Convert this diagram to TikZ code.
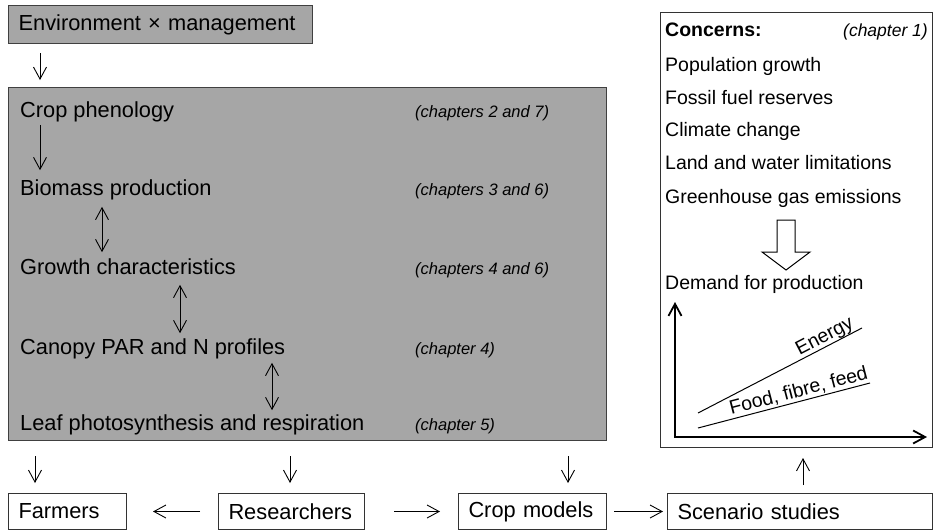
\documentclass[tikz,border=0pt]{standalone}
\usepackage{fontspec}
\setmainfont{Liberation Sans}
\usetikzlibrary{arrows.meta}

\tikzset{
  graybox/.style={draw=black!75, fill=black!35, line width=1.2pt},
  whitebox/.style={draw=black!80, fill=white, line width=1pt},
  arr/.style={-{Straight Barb[length=12pt,width=13pt]}, line width=0.9pt},
  darr/.style={{Straight Barb[length=12pt,width=13pt]}-{Straight Barb[length=12pt,width=13pt]}, line width=0.9pt},
  rowtxt/.style={font=\fontsize{21.8}{26}\selectfont, inner sep=0pt, text height=0.72em, text depth=0.2em, anchor=west},
  chaptxt/.style={font=\fontsize{16.5}{20}\selectfont\itshape, inner sep=0pt, text height=0.72em, text depth=0.2em, anchor=west},
  listtxt/.style={font=\fontsize{19.5}{23}\selectfont, inner sep=0pt, text height=0.72em, text depth=0.2em, anchor=west},
  linelabel/.style={font=\fontsize{19.5}{23}\selectfont, inner sep=2pt, text height=0.72em, text depth=0.2em},
  textbox/.style={font=\fontsize{21.8}{26}\selectfont, execute at begin node={\hyphenpenalty=10000\relax},
    anchor=north west, minimum height=36pt, inner xsep=10pt, align=left, text width=#1}
}

\begin{document}
\begin{tikzpicture}[x=1pt, y=-1pt]
        % Fix the page to the size of the figure
        \useasboundingbox (0,0) rectangle (934,531);

        % Input box and the big model box
        \node[graybox, textbox=284pt, minimum height=38pt] (env) at (8,5) {Environment × management};
        \node[graybox, anchor=north west, minimum width=598pt, minimum height=353pt, inner sep=0pt] (model) at (8,87) {};

        % Rows inside the model box
        \node[rowtxt] (phen) at (20,115) {Crop phenology};
        \node[rowtxt] (bio) at (20,193) {Biomass production};
        \node[rowtxt] (grow) at (20,272) {Growth characteristics};
        \node[rowtxt] (canopy) at (20,352) {Canopy PAR and N profiles};
        \node[rowtxt] (leaf) at (20,428) {Leaf photosynthesis and respiration};

        % Chapter references
        \node[chaptxt] (ch27) at (415,115) {(chapters 2 and 7)};
        \node[chaptxt] (ch36) at (415,193) {(chapters 3 and 6)};
        \node[chaptxt] (ch46) at (415,272) {(chapters 4 and 6)};
        \node[chaptxt] (ch4) at (415,352) {(chapter 4)};
        \node[chaptxt] (ch5) at (415,428) {(chapter 5)};

        % Arrows between the rows
        \draw[arr, shorten <=9pt, shorten >=7pt] ([xshift=32pt]env.south west) -- ([xshift=32pt]model.north west);
        \draw[arr, shorten <=5pt, shorten >=18pt] ([xshift=20pt]phen.south west) -- ([xshift=20pt]bio.north west);
        \draw[darr, shorten <=9pt, shorten >=15pt] ([xshift=82pt]bio.south west) -- ([xshift=82pt]grow.north west);
        \draw[darr, shorten <=8pt, shorten >=14pt] ([xshift=160pt]grow.south west) -- ([xshift=160pt]canopy.north west);
        \draw[darr, shorten <=6pt, shorten >=13pt] ([xshift=252pt]canopy.south west) -- ([xshift=252pt]leaf.north west);

        % Bottom row of boxes
        \node[whitebox, textbox=98pt] (farm) at (8,493) {Farmers};
        \node[whitebox, textbox=126pt] (res) at (218,493) {Researchers};
        \node[whitebox, textbox=128pt] (crop) at (458,493) {Crop models};
        \node[whitebox, textbox=245pt] (scen) at (667,493) {Scenario studies};

        \draw[arr, shorten <=15pt, shorten >=10pt] ([xshift=27pt]model.south west) -- ([xshift=27pt]farm.north west);
        \draw[arr, shorten <=15pt, shorten >=10pt] ([xshift=282pt]model.south west) -- ([xshift=72pt]res.north west);
        \draw[arr, shorten <=15pt, shorten >=10pt] ([xshift=560pt]model.south west) -- ([xshift=110pt]crop.north west);
        \draw[arr, shorten <=18pt, shorten >=26pt] (res.west) -- (farm.east);
        \draw[arr, shorten <=29pt, shorten >=18pt] (res.east) -- (crop.west);
        \draw[arr, shorten <=7pt, shorten >=4pt] (crop.east) -- (scen.west);

        % Concerns box on the right
        \node[whitebox, anchor=north west, minimum width=272pt, minimum height=435pt, inner sep=0pt] (concern) at (660,12) {};
        \draw[arr, shorten <=8pt, shorten >=10pt] ([xshift=136pt]scen.north west) -- ([xshift=143pt]concern.south west);

        \node[listtxt, font=\fontsize{19.5}{23}\selectfont\bfseries] (conc) at (665,34) {Concerns:};
        \node[chaptxt, anchor=east, font=\fontsize{17.5}{21}\selectfont\itshape] (ch1) at (928,34) {(chapter 1)};
        \node[listtxt] (pop) at (665,69) {Population growth};
        \node[listtxt] (fossil) at (665,102) {Fossil fuel reserves};
        \node[listtxt] (climate) at (665,134) {Climate change};
        \node[listtxt] (land) at (665,167) {Land and water limitations};
        \node[listtxt] (ghg) at (665,201) {Greenhouse gas emissions};
        \node[listtxt] (demand) at (665,287) {Demand for production};

        % Hollow arrow down to the demand
        \draw[line width=1pt, fill=white] (777,220) -- (795,220) -- (795,252) -- (810,252)
          -- (786,270) -- (762,252) -- (777,252) -- cycle;

        % Axes of the demand graph
        \coordinate (ytop) at (675,302);
        \coordinate (orig) at (675,437);
        \coordinate (xend) at (927,437);
        \draw[darr, line width=1.8pt] (ytop) -- (orig) -- (xend);

        % Demand lines
        \coordinate (e1) at (698,413);
        \coordinate (e2) at (862,328);
        \coordinate (f1) at (698,428);
        \coordinate (f2) at (870,383);
        \draw[line width=1pt] (e1) -- (e2) node[linelabel, pos=0.8, sloped, above] (energy) {Energy};
        \draw[line width=1pt] (f1) -- (f2) node[linelabel, pos=0.6, sloped, above] (food) {Food, fibre, feed};

      \end{tikzpicture}
\end{document}
